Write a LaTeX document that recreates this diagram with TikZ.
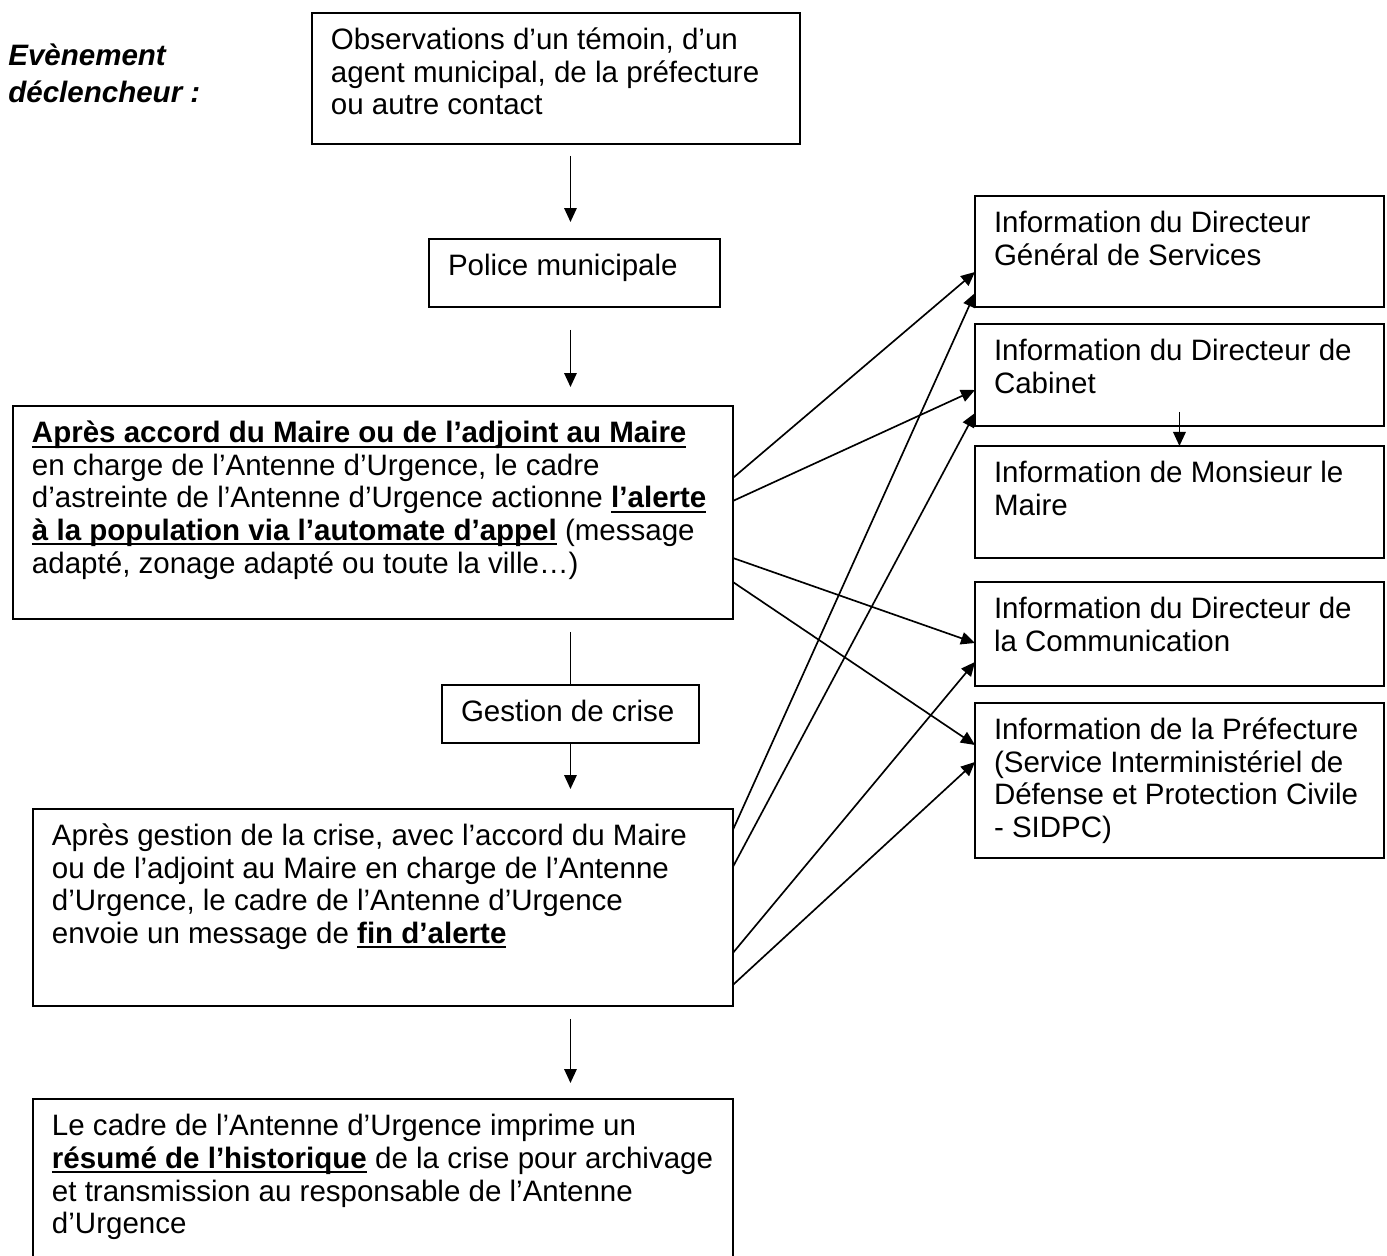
\documentclass[tikz,border=0pt]{standalone}
\usepackage{fontspec}
\setmainfont{Liberation Sans}
\usetikzlibrary{arrows.meta}
\newcommand{\ulbf}[1]{\setbox0\hbox{\textbf{#1}}\rlap{\rule[-2.6pt]{\wd0}{1.1pt}}\box0\relax}

\begin{document}
\begin{tikzpicture}[x=0.02cm, y=-0.02cm,
    box/.style={draw, line width=1pt, anchor=north west, align=flush left,
      inner xsep=0.38cm, inner ysep=0pt, outer sep=0pt, text height=0.74cm,
      font=\fontsize{16.8pt}{18.5pt}\selectfont},
    lbl/.style={anchor=base west, align=flush left, text width=5cm, inner sep=0pt,
      font=\fontsize{16.8pt}{21pt}\selectfont\bfseries\itshape},
    arr/.style={line width=0.95pt, -{Triangle[length=0.28cm, width=0.25cm]}},
    link/.style={line width=0.95pt}]
    \useasboundingbox (0,0) rectangle (1387,1256);
    % LEFT COLUMN
    \node[lbl] (trigger) at (8,66) {Evènement\\déclencheur :};
    \node[box, text width=9.00cm, text depth=1.88cm] (obs) at (312,13)
      {Observations d’un témoin, d’un\\agent municipal, de la préfecture\\ou autre contact};
    \node[box, text width=5.06cm, text depth=0.62cm] (police) at (429,239)
      {Police municipale};
    \node[box, text width=13.64cm, text depth=3.52cm] (alerte) at (13,406)
      {\mbox{\ulbf{Après accord du Maire ou de l’adjoint au Maire}}\\
       en charge de l’Antenne d’Urgence, le cadre\\
       \mbox{d’astreinte de l’Antenne d’Urgence actionne \ulbf{l’alerte}}\\
       \mbox{\ulbf{à la population via l’automate d’appel} (message}\\
       adapté, zonage adapté ou toute la ville…)};
    \node[box, text width=4.38cm, text depth=0.42cm] (gestion) at (442,685)
      {Gestion de crise};
    \node[box, text width=13.24cm, text depth=3.20cm] (fin) at (33,809)
      {\mbox{Après gestion de la crise, avec l’accord du Maire}\\
       ou de l’adjoint au Maire en charge de l’Antenne\\
       d’Urgence, le cadre de l’Antenne d’Urgence\\
       envoie un message de \ulbf{fin d’alerte}};
    \node[box, text width=13.24cm, text depth=2.56cm] (resume) at (33,1099)
      {Le cadre de l’Antenne d’Urgence imprime un\\
       \mbox{\ulbf{résumé de l’historique} de la crise pour archivage}\\
       et transmission au responsable de l’Antenne\\
       d’Urgence};
    % RIGHT COLUMN
    \node[box, text width=7.42cm, text depth=1.48cm] (dgs) at (975,196)
      {Information du Directeur\\Général de Services};
    \node[box, text width=7.42cm, text depth=1.30cm] (cabinet) at (975,324)
      {Information du Directeur de\\Cabinet};
    \node[box, text width=7.42cm, text depth=1.50cm] (maire) at (975,446)
      {Information de Monsieur le\\Maire};
    \node[box, text width=7.42cm, text depth=1.34cm] (comm) at (975,582)
      {Information du Directeur de\\la Communication};
    \node[box, text width=7.42cm, text depth=2.36cm] (pref) at (975,703)
      {Information de la Préfecture\\(Service Interministériel de\\Défense et Protection Civile\\- SIDPC)};
    % vertical arrows
    \draw[arr, shorten <=0.24cm, shorten >=0.34cm] (obs.south -| gestion.north) -- (police.north -| gestion.north);
    \draw[arr, shorten <=0.46cm, shorten >=0.38cm] (police.south -| gestion.north) -- (alerte.north -| gestion.north);
    \draw[link, shorten <=0.26cm] (alerte.south -| gestion.north) -- (gestion.north);
    \draw[arr, shorten >=0.40cm] (gestion.south) -- (fin.north -| gestion.south);
    \draw[arr, shorten <=0.26cm, shorten >=0.32cm] (fin.south -| gestion.south) -- (resume.north -| gestion.south);
    \draw[arr] ([yshift=0.28cm]cabinet.south) -- (maire.north);
    % arrows from the alert box
    \draw[arr] ([yshift=0.69cm]alerte.east) -- ([yshift=-0.41cm]dgs.west);
    \draw[arr] ([yshift=0.23cm]alerte.east) -- ([yshift=-0.30cm]cabinet.west);
    \draw[arr] ([yshift=-0.91cm]alerte.east) -- ([yshift=-0.18cm]comm.west);
    \draw[arr] ([yshift=-1.39cm]alerte.east) -- ([yshift=0.71cm]pref.west);
    % arrows from the end of alert box
    \draw[arr] ([yshift=1.55cm]fin.east) -- ([yshift=-0.83cm]dgs.west);
    \draw[arr] ([yshift=0.81cm]fin.east) -- ([yshift=-0.76cm]cabinet.west);
    \draw[arr] ([yshift=-0.91cm]fin.east) -- ([yshift=-0.56cm]comm.west);
    \draw[arr] ([yshift=-1.55cm]fin.east) -- ([yshift=0.37cm]pref.west);
\end{tikzpicture}
\end{document}
